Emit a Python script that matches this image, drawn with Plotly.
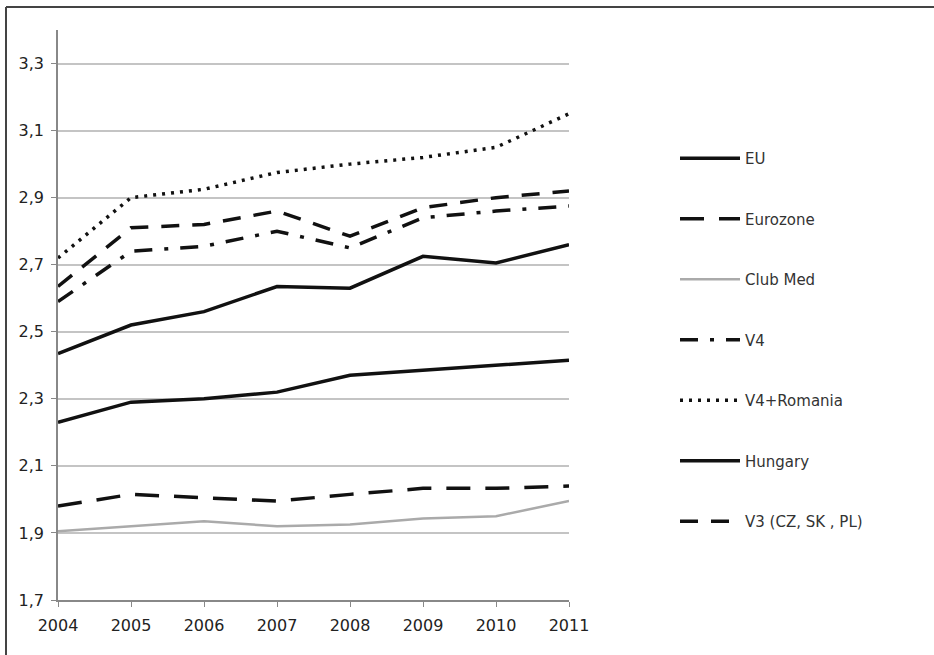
import plotly.graph_objects as go

years = [2004, 2005, 2006, 2007, 2008, 2009, 2010, 2011]
eu = [2.23, 2.29, 2.30, 2.32, 2.37, 2.385, 2.40, 2.415]
eurozone = [1.98, 2.015, 2.005, 1.995, 2.015, 2.033, 2.033, 2.04]
club_med = [1.905, 1.92, 1.935, 1.92, 1.925, 1.943, 1.95, 1.995]
v4 = [2.59, 2.74, 2.755, 2.80, 2.75, 2.84, 2.86, 2.875]
v4_romania = [2.72, 2.90, 2.925, 2.975, 3.00, 3.02, 3.05, 3.15]
hungary = [2.435, 2.52, 2.56, 2.635, 2.63, 2.725, 2.705, 2.76]
v3 = [2.635, 2.81, 2.82, 2.86, 2.785, 2.87, 2.90, 2.92]

y_ticks = [1.7, 1.9, 2.1, 2.3, 2.5, 2.7, 2.9, 3.1, 3.3]

series = [
    ("EU", eu, dict(color="#111111", width=3.5, dash="solid")),
    ("Eurozone", eurozone, dict(color="#111111", width=3.5, dash="24px,15px")),
    ("Club Med", club_med, dict(color="#aaaaaa", width=2.5, dash="solid")),
    ("V4", v4, dict(color="#111111", width=3.5, dash="18px,12px,4px,12px")),
    ("V4+Romania", v4_romania, dict(color="#111111", width=3.5, dash="3px,6px")),
    ("Hungary", hungary, dict(color="#111111", width=3.5, dash="solid")),
    ("V3 (CZ, SK , PL)", v3, dict(color="#111111", width=3.5, dash="18px,13px")),
]

fig = go.Figure()
for i, (name, vals, line) in enumerate(series):
    fig.add_trace(go.Scatter(x=years, y=vals, name=name, mode="lines",
                             line=line, legendgroup=f"g{i}"))

fig.update_layout(
    width=934, height=655,
    margin=dict(l=58, r=365, t=30, b=55),
    paper_bgcolor="white", plot_bgcolor="white",
    separators=", ",
    font=dict(family="DejaVu Sans, sans-serif", color="#333333", size=15),
    showlegend=True,
    legend=dict(
        xref="container", yref="container",
        x=675 / 934, y=1 - 142 / 655, xanchor="left", yanchor="top",
        tracegroupgap=38, itemwidth=60, maxheight=600,
        font=dict(size=15, color="#333333"),
        bgcolor="rgba(0,0,0,0)",
    ),
    xaxis=dict(
        range=[2004, 2011], tickvals=years, ticktext=[str(y) for y in years],
        showgrid=False, showline=True, linecolor="#888888", linewidth=1.5,
        ticks="outside", ticklen=5, tickcolor="#888888", ticklabelstandoff=5,
        tickfont=dict(size=16, color="#222222"), zeroline=False,
    ),
    yaxis=dict(
        range=[1.7, 3.4], tickvals=y_ticks, tickformat=".1f",
        showgrid=True, gridcolor="#c4c4c4", gridwidth=1.5,
        showline=True, linecolor="#888888", linewidth=1.5,
        ticks="outside", ticklen=5, tickcolor="#888888", ticklabelstandoff=4,
        tickfont=dict(size=16, color="#222222"), zeroline=False,
    ),
    shapes=[
        dict(type="line", xref="paper", yref="paper", x0=-52 / 511, x1=(934 - 58) / 511,
             y0=1 + 23 / 570, y1=1 + 23 / 570, line=dict(color="#444444", width=2)),
        dict(type="line", xref="paper", yref="paper", x0=-52 / 511, x1=-52 / 511,
             y0=1 + 23 / 570, y1=-55 / 570, line=dict(color="#444444", width=2)),
    ],
)

fig.write_html("out.html", config={"displayModeBar": False},
               post_script="document.body.style.margin='0';")
